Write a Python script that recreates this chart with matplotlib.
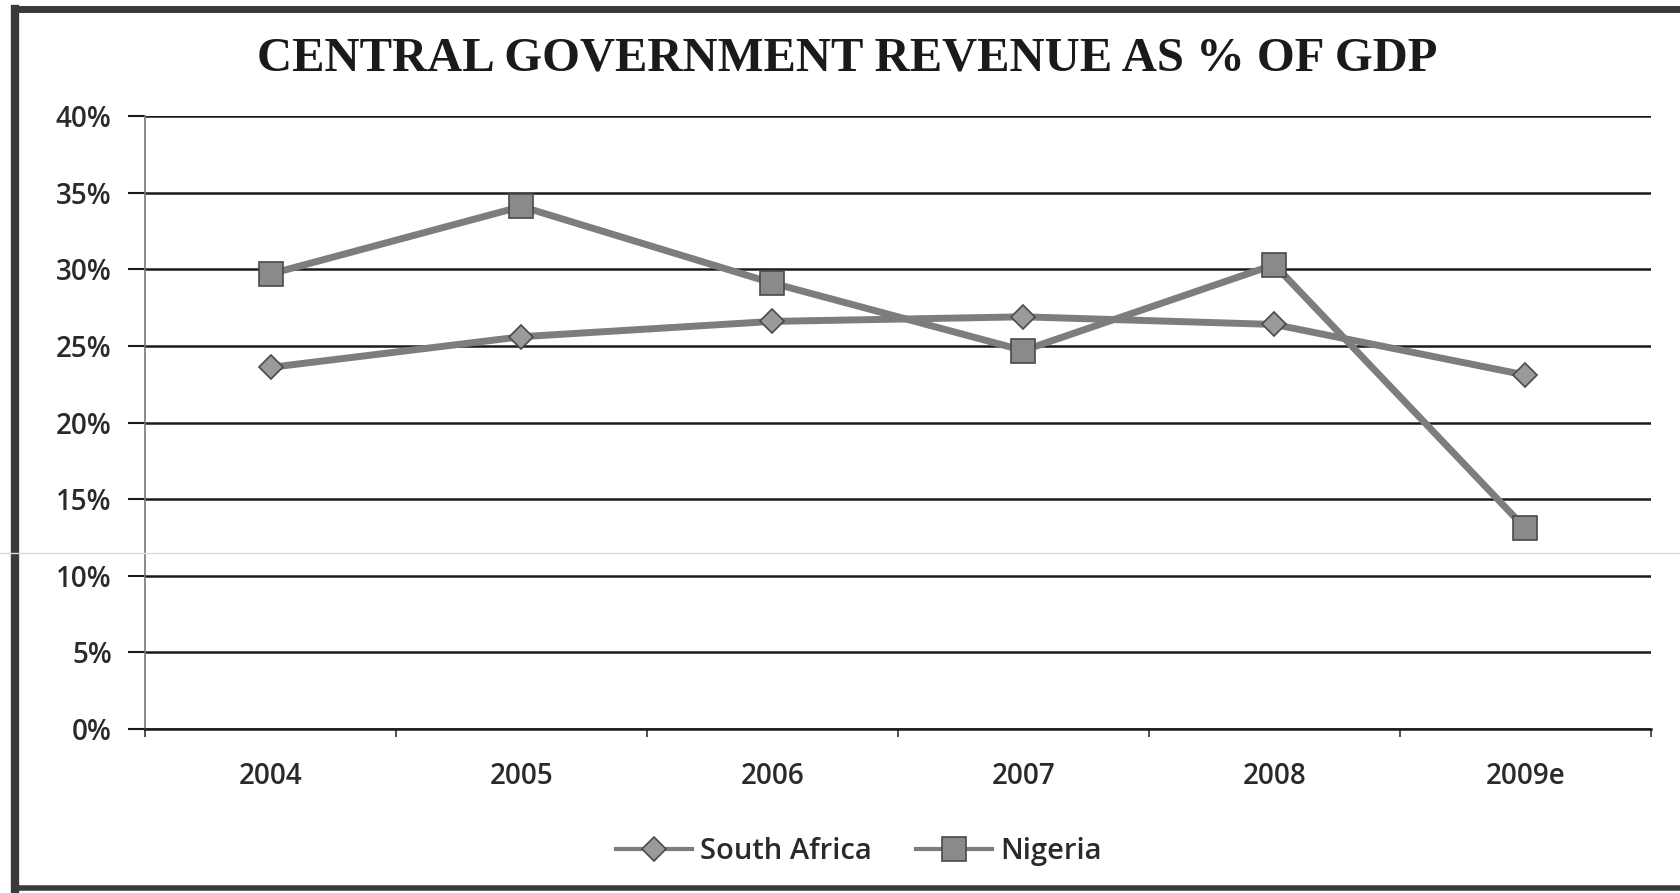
import numpy as np
import matplotlib.pyplot as plt
from matplotlib.ticker import FuncFormatter, FixedLocator
from matplotlib.lines import Line2D

years = ['2004', '2005', '2006', '2007', '2008', '2009e']
south_africa = [0.236, 0.256, 0.266, 0.269, 0.264, 0.231]
nigeria = [0.297, 0.341, 0.291, 0.247, 0.303, 0.131]
title = 'CENTRAL GOVERNMENT REVENUE AS % OF GDP'

fig = plt.figure(figsize=(16.81, 8.93), dpi=100)
ax = fig.add_axes([0.0863, 0.1837, 0.8957, 0.6863])

x = np.arange(len(years))
line_col = '#7d7d7d'
edge_col = '#4a4a4a'
ax.plot(x, south_africa, color=line_col, lw=5, marker='D', ms=12,
        mfc='#9a9a9a', mec=edge_col, mew=1.2, label='South Africa', zorder=4)
ax.plot(x, nigeria, color=line_col, lw=5, marker='s', ms=17,
        mfc='#8a8a8a', mec=edge_col, mew=1.2, label='Nigeria', zorder=5)

ax.set_xlim(-0.5, len(years) - 0.5)
ax.set_ylim(0, 0.40)
ax.yaxis.set_major_locator(FixedLocator(np.arange(0, 0.401, 0.05)))
ax.yaxis.set_major_formatter(FuncFormatter(lambda v, p: f'{v*100:.0f}%'))
ax.grid(axis='y', color='#1a1a1a', lw=1.8)
ax.set_axisbelow(True)

ax.set_xticks(x)
ax.set_xticklabels(years)
ax.set_xticks(np.arange(-0.5, len(years)), minor=True)
ax.tick_params(axis='x', which='major', length=0, pad=24)
ax.tick_params(axis='x', which='minor', length=6, width=1.2, color='#333333')
ax.tick_params(axis='y', length=12, width=1.5, color='#1a1a1a', pad=12)

for s in ['top', 'right']:
    ax.spines[s].set_visible(False)
ax.spines['left'].set_color('#777777')
ax.spines['left'].set_linewidth(1.2)
ax.spines['bottom'].set_color('#1a1a1a')
ax.spines['bottom'].set_linewidth(1.8)

for lab in ax.get_xticklabels() + ax.get_yticklabels():
    lab.set_fontfamily('Open Sans')
    lab.set_fontsize(20)
    lab.set_fontweight('semibold')
    lab.set_color('#2a2a2a')

fig.text(0.504, 0.935, title, ha='center', va='center',
         fontfamily='Liberation Serif', fontsize=35, fontweight='bold',
         color='#1a1a1a')

leg = ax.legend(loc='center', bbox_to_anchor=(0.474, -0.2), ncol=2,
                frameon=False, handlelength=2.6,
                columnspacing=1.5, handletextpad=0.3,
                prop={'family': 'Open Sans', 'size': 21, 'weight': 'semibold'})
for t in leg.get_texts():
    t.set_color('#2a2a2a')
for h in leg.get_lines():
    h.set_linewidth(3)

# scanned page border and faint scanner line
fig.add_artist(Line2D([0.009, 0.009], [0.005, 0.99], color='#3a3a3a', lw=6,
                      transform=fig.transFigure))
fig.add_artist(Line2D([0.009, 1.0], [0.99, 0.99], color='#3a3a3a', lw=5,
                      transform=fig.transFigure))
fig.add_artist(Line2D([0.009, 1.0], [0.006, 0.006], color='#3a3a3a', lw=4,
                      transform=fig.transFigure))
fig.add_artist(Line2D([0.0, 1.0], [0.381, 0.381], color='#bfe3e8', lw=1,
                      transform=fig.transFigure))

fig.savefig('out.png', dpi=100)
